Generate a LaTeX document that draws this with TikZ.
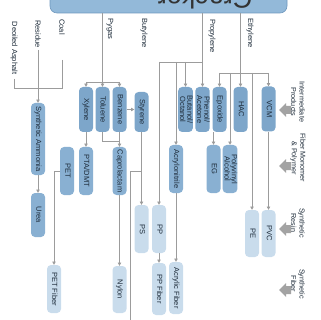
\documentclass[tikz,border=0pt]{standalone}
\usepackage{fontspec}
\setmainfont{Liberation Sans}
\usetikzlibrary{arrows.meta}
\definecolor{linec}{HTML}{9C9C9C}
\definecolor{txtc}{HTML}{1E2C3A}
\definecolor{darkc}{HTML}{7DA6CA}
\definecolor{midc}{HTML}{89B0D2}
\definecolor{lightc}{HTML}{C9DCEC}
\definecolor{crackc}{HTML}{93B9D9}
\definecolor{crackd}{HTML}{6E97BD}
\definecolor{tagc}{HTML}{A3A3A3}
% vertical (top-to-bottom) text block, possibly several lines
\newcommand\vtxt[1]{\rotatebox{-90}{\renewcommand\arraystretch{0.8}\begin{tabular}{@{}c@{}}#1\end{tabular}}}
\begin{document}
\begin{tikzpicture}[x=1pt,y=-1pt,
  font=\fontsize{7.5}{8}\selectfont, text=txtc,
  box/.style={rounded corners=4pt, inner sep=0pt, minimum width=14pt},
  inter/.style={box, fill=darkc},
  mono/.style={box, fill=midc},
  prod/.style={box, fill=lightc},
  feed/.style={rotate=-90, inner sep=0pt, align=center},
  tag/.style={rotate=-90, inner sep=0pt, align=center, font=\fontsize{7.2}{8.5}\selectfont},
  link/.style={draw=linec, line width=0.7pt},
  flow/.style={link, -{Triangle[length=3.2pt,width=3.4pt]}}
]
\useasboundingbox (0,0) rectangle (320,320);
\clip (0,0) rectangle (320,320);

% cracker header
\node[draw=crackd, fill=crackc, rounded corners=7pt, minimum width=237pt, minimum height=30pt, line width=0.6pt] (cracker) at (168.5,-2) {};
\node[rotate=180, font=\fontsize{27}{27}\selectfont, text=black!80] (crackertxt) at (205,-1) {Cracker};

% feedstock labels
\node[feed] (coal) at (62,27) {Coal};
\node[feed] (residue) at (38,34) {Residue};
\node[feed] (asphalt) at (14,48) {Deoiled Asphalt};
\node[feed] (pygas) at (110,29) {Pygas};
\node[feed] (butylene) at (144,33) {Butylene};
\node[feed] (propylene) at (212,36) {Propylene};
\node[feed] (ethylene) at (250,33) {Ethylene};

% intermediate products
\node[inter, minimum height=45pt] (xylene) at (86,109.5) {\vtxt{Xylene}};
\node[inter, minimum height=45pt] (toluene) at (102.5,109.5) {\vtxt{Toluene}};
\node[inter, minimum height=45pt] (benzene) at (119.5,109.5) {\vtxt{Benzene}};
\node[inter, minimum height=40pt] (styrene) at (141.5,112) {\vtxt{Styrene}};
\node[inter, minimum height=45pt] (butanol) at (185.5,109.5) {\vtxt{Butanol/\\Octanol}};
\node[inter, minimum height=45pt] (phenol) at (202.5,109.5) {\vtxt{Phenol/\\Acetone}};
\node[inter, minimum height=45pt] (eo) at (219.5,109.5) {\vtxt{Epoxide}};
\node[inter, minimum height=45pt] (hac) at (240.5,109.5) {\vtxt{HAC}};
\node[inter, minimum height=45pt] (vcm) at (268.5,109) {\vtxt{VCM}};

% fibre monomers and polymers
\node[mono, minimum height=72pt] (ammonia) at (38,139) {\vtxt{Synthetic Ammonia}};
\node[mono, minimum height=48pt] (pet) at (67,171) {\vtxt{PET}};
\node[mono, minimum height=48pt] (pta) at (86,171) {\vtxt{PTA/DMT}};
\node[mono, minimum height=48pt] (capro) at (119.5,171) {\vtxt{Caprolactam}};
\node[mono, minimum height=48pt] (acn) at (176,169) {\vtxt{Acrylonitrile}};
\node[mono, minimum height=48pt] (eg) at (213.5,169) {\vtxt{EG}};
\node[mono, minimum height=48pt] (pva) at (230,169) {\vtxt{Polyvinyl\\Alcohol}};
\node[mono, minimum height=44pt] (urea) at (38,215) {\vtxt{Urea}};

% resins and fibres
\node[prod, minimum height=48pt] (ps) at (141.5,229) {\vtxt{PS}};
\node[prod, minimum height=48pt] (pp) at (159,229) {\vtxt{PP}};
\node[prod, minimum height=47pt] (pe) at (252,233.5) {\vtxt{PE}};
\node[prod, minimum height=47pt] (pvc) at (268.5,233.5) {\vtxt{PVC}};
\node[prod, minimum height=48pt] (petf) at (54,289) {\vtxt{PET Fiber}};
\node[prod, minimum height=47pt] (nylon) at (119.5,289.5) {\vtxt{Nylon}};
\node[prod, minimum height=52pt] (ppf) at (159,289) {\vtxt{PP Fiber}};
\node[prod, minimum height=52pt] (acf) at (176,288) {\vtxt{Acrylic Fiber}};

% junction points
\coordinate (coaltop) at (62,60);
\coordinate (asphtop) at (14,79);
\coordinate (restop) at (38,50);
\coordinate (joinL) at (38,88);
\coordinate (pyj) at (102.5,82);
\coordinate (prj) at (202.5,62);
\coordinate (ppdrop) at (159,62);
\coordinate (etj) at (240.5,73);
\coordinate (tcj) at (119.5,141);
\coordinate (absj) at (141.5,171);
\coordinate (absend) at (130,325);

% coal / residue / asphalt
\draw[link] (coaltop) |- (joinL);
\draw[link] (asphtop) |- (joinL);
\draw[flow] (restop) -- (ammonia.north);
\draw[flow] (ammonia.south) -- (urea.north);

% pygas branch
\draw[link] (cracker.south -| pyj) -- (pyj);
\draw[link] (xylene.north |- pyj) -- (benzene.north |- pyj);
\draw[flow] (xylene.north |- pyj) -- (xylene.north);
\draw[flow] (toluene.north |- pyj) -- (toluene.north);
\draw[flow] (benzene.north |- pyj) -- (benzene.north);

% propylene branch
\draw[link] (cracker.south -| prj) -- (prj) -- (ppdrop);
\draw[flow] (ppdrop) -- (pp.north);
\draw[flow] (acn.north |- prj) -- (acn.north);
\draw[flow] (butanol.north |- prj) -- (butanol.north);
\draw[flow] (prj) -- (phenol.north);

% ethylene branch
\draw[flow] (cracker.south -| hac.north) -- (hac.north);
\draw[link] (eo.north |- etj) -- (vcm.north |- etj);
\draw[flow] (eo.north |- etj) -- (eo.north);
\draw[flow] (pva.north |- etj) -- (pva.north);
\draw[flow] (pe.north |- etj) -- (pe.north);
\draw[flow] (vcm.north |- etj) -- (vcm.north);

% downstream links
\draw[flow] (xylene.south) -- (pta.north);
\draw[link] (toluene.south) |- (tcj);
\draw[flow] (benzene.south) -- (capro.north);
\draw[flow] (benzene.east) -- (styrene.west |- benzene.east);
\draw[flow] (styrene.south) -- (ps.north);
\draw[link] (absj) -| (absend);
\draw[flow] (pet.west) -| (petf.north);
\draw[flow] (capro.south) -- (nylon.north);
\draw[flow] (pp.south) -- (ppf.north);
\draw[flow] (acn.south) -- (acf.north);
\draw[flow] (eo.south -| eg.north) -- (eg.north);
\draw[flow] (vcm.south) -- (pvc.north);

% level markers
\fill[tagc] (279,110) -- ++(7,-7) -- ++(0,3) -- ++(5,0) -- ++(0,8) -- ++(-5,0) -- ++(0,3) -- cycle;
\fill[tagc] (279,166) -- ++(7,-7) -- ++(0,3) -- ++(5,0) -- ++(0,8) -- ++(-5,0) -- ++(0,3) -- cycle;
\fill[tagc] (279,229) -- ++(7,-7) -- ++(0,3) -- ++(5,0) -- ++(0,8) -- ++(-5,0) -- ++(0,3) -- cycle;
\fill[tagc] (279,290) -- ++(7,-7) -- ++(0,3) -- ++(5,0) -- ++(0,8) -- ++(-5,0) -- ++(0,3) -- cycle;
\node[tag] (tagint) at (298,102) {Intermediate\\Products};
\node[tag] (tagmono) at (298,158) {Fiber Monomer\\\& Polymer};
\node[tag] (tagres) at (298,223) {Synthetic\\Resin};
\node[tag] (tagfib) at (298,284) {Synthetic\\Fiber};
\end{tikzpicture}
\end{document}
